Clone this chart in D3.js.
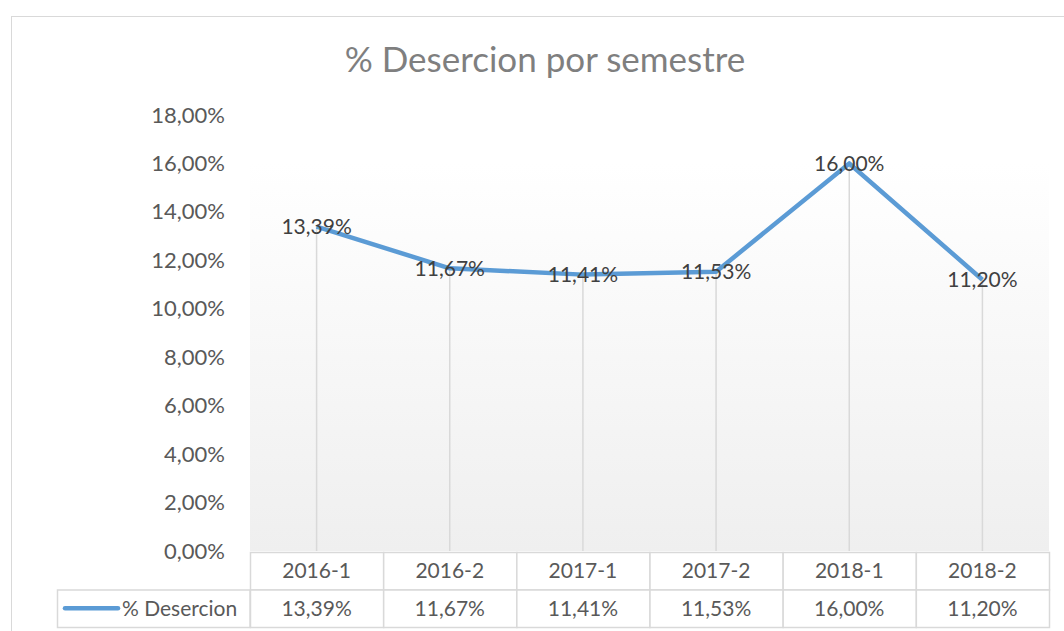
<!DOCTYPE html>
<html>
<head>
<meta charset="utf-8">
<script src="https://cdn.jsdelivr.net/npm/d3@7"></script>
<style>
  body { margin: 0; background: #fff; }
  svg { display: block; }
</style>
</head>
<body>
<div id="chart"></div>
<script>
// Data
const semesters = ["2016-1", "2016-2", "2017-1", "2017-2", "2018-1", "2018-2"];
const desercion = [13.39, 11.67, 11.41, 11.53, 16.00, 11.20];
const yTicks = [0, 2, 4, 6, 8, 10, 12, 14, 16, 18];
const seriesName = "% Desercion";
const chartTitle = "% Desercion por semestre";

const width = 1064;
const height = 631;
const font = "Lato, 'Open Sans', sans-serif";
const fmt = v => v.toFixed(2).replace(".", ",") + "%";

// plot area bounds (match the Excel layout)
const plot = { left: 250, right: 1049, top: 115, bottom: 551 };
const rowH = 37.5;

const svg = d3.select("#chart").append("svg")
    .attr("width", width)
    .attr("height", height)
    .attr("font-family", font);

// outer chart border
svg.append("rect")
    .attr("x", 11.5).attr("y", 16.5)
    .attr("width", width + 10).attr("height", height + 10)
    .attr("fill", "#fff")
    .attr("stroke", "#d9d9d9");

// title
svg.append("text")
    .attr("x", 545).attr("y", 72)
    .attr("text-anchor", "middle")
    .attr("font-size", 35)
    .attr("fill", "#7f7f7f")
    .text(chartTitle);

const x = d3.scaleBand()
    .domain(semesters)
    .range([plot.left, plot.right]);

const y = d3.scaleLinear()
    .domain([0, 18])
    .range([plot.bottom, plot.top]);

// gradient background of the plot area
const defs = svg.append("defs");
const grad = defs.append("linearGradient")
    .attr("id", "plotGrad")
    .attr("x1", 0).attr("y1", 0).attr("x2", 0).attr("y2", 1);
grad.append("stop").attr("offset", "0%").attr("stop-color", "#ffffff");
grad.append("stop").attr("offset", "100%").attr("stop-color", "#efefef");

svg.append("rect")
    .attr("x", plot.left).attr("y", y(16))
    .attr("width", plot.right - plot.left)
    .attr("height", plot.bottom - y(16))
    .attr("fill", "url(#plotGrad)");

// y axis labels
const yAxis = svg.append("g")
    .attr("transform", `translate(${plot.left - 22},0)`)
    .call(d3.axisLeft(y).tickValues(yTicks).tickSize(0).tickFormat(d => fmt(d)));
yAxis.select(".domain").remove();
yAxis.selectAll("text")
    .attr("font-family", font)
    .attr("font-size", 22)
    .attr("fill", "#595959");

// drop lines
svg.append("g")
    .selectAll("line")
    .data(desercion)
    .join("line")
    .attr("x1", (d, i) => x(semesters[i]) + x.bandwidth() / 2)
    .attr("x2", (d, i) => x(semesters[i]) + x.bandwidth() / 2)
    .attr("y1", d => y(d))
    .attr("y2", plot.bottom)
    .attr("stroke", "#d9d9d9")
    .attr("stroke-width", 1.5);

// line
const line = d3.line()
    .x((d, i) => x(semesters[i]) + x.bandwidth() / 2)
    .y(d => y(d));

svg.append("path")
    .datum(desercion)
    .attr("fill", "none")
    .attr("stroke", "#5b9bd5")
    .attr("stroke-width", 4.5)
    .attr("stroke-linejoin", "round")
    .attr("d", line);

// data labels centered on points
svg.append("g")
    .selectAll("text")
    .data(desercion)
    .join("text")
    .attr("x", (d, i) => x(semesters[i]) + x.bandwidth() / 2)
    .attr("y", d => y(d))
    .attr("dy", "0.35em")
    .attr("text-anchor", "middle")
    .attr("font-size", 21)
    .attr("fill", "#404040")
    .text(d => fmt(d));

// data table
const table = svg.append("g");
const tTop = plot.bottom + 1;
const tableStroke = "#d9d9d9";

// header row cells
table.selectAll("rect.head")
    .data(semesters)
    .join("rect")
    .attr("class", "head")
    .attr("x", d => x(d) + 0.5).attr("y", tTop + 0.5)
    .attr("width", x.bandwidth()).attr("height", rowH)
    .attr("fill", "#fff")
    .attr("stroke", tableStroke)
    .attr("stroke-width", 1.5);

table.selectAll("text.head")
    .data(semesters)
    .join("text")
    .attr("class", "head")
    .attr("x", d => x(d) + x.bandwidth() / 2)
    .attr("y", tTop + rowH / 2)
    .attr("dy", "0.35em")
    .attr("text-anchor", "middle")
    .attr("font-size", 21)
    .attr("fill", "#595959")
    .text(d => d);

// value row cells
table.selectAll("rect.val")
    .data(desercion)
    .join("rect")
    .attr("class", "val")
    .attr("x", (d, i) => x(semesters[i]) + 0.5).attr("y", tTop + rowH + 0.5)
    .attr("width", x.bandwidth()).attr("height", rowH)
    .attr("fill", "#fff")
    .attr("stroke", tableStroke)
    .attr("stroke-width", 1.5);

table.selectAll("text.val")
    .data(desercion)
    .join("text")
    .attr("class", "val")
    .attr("x", (d, i) => x(semesters[i]) + x.bandwidth() / 2)
    .attr("y", tTop + rowH * 1.5)
    .attr("dy", "0.35em")
    .attr("text-anchor", "middle")
    .attr("font-size", 21)
    .attr("fill", "#595959")
    .text(d => fmt(d));

// legend cell
const legX = 57.5;
table.append("rect")
    .attr("x", legX).attr("y", tTop + rowH + 0.5)
    .attr("width", plot.left - legX).attr("height", rowH)
    .attr("fill", "#fff")
    .attr("stroke", tableStroke)
    .attr("stroke-width", 1.5);

table.append("line")
    .attr("x1", 65).attr("x2", 118)
    .attr("y1", tTop + rowH * 1.5).attr("y2", tTop + rowH * 1.5)
    .attr("stroke", "#5b9bd5")
    .attr("stroke-width", 4.5)
    .attr("stroke-linecap", "round");

table.append("text")
    .attr("x", 122)
    .attr("y", tTop + rowH * 1.5)
    .attr("dy", "0.35em")
    .attr("font-size", 21)
    .attr("fill", "#595959")
    .text(seriesName);
</script>
</body>
</html>
